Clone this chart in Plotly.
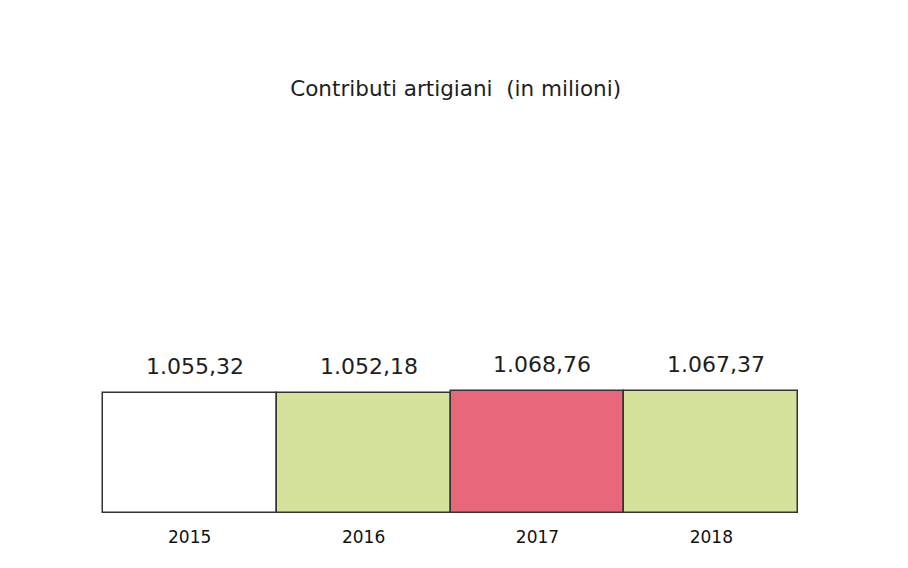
import plotly.graph_objects as go

years = ["2015", "2016", "2017", "2018"]
contributi = [1055.32, 1052.18, 1068.76, 1067.37]
bar_colors = ["#ffffff", "#d4e29b", "#e9677a", "#d4e29b"]

FONT = "DejaVu Sans, Verdana, sans-serif"


def it_format(val):
    """Italian number format: 1.055,32"""
    return f"{val:,.2f}".replace(",", "X").replace(".", ",").replace("X", ".")


fig = go.Figure(
    data=go.Bar(
        x=years,
        y=contributi,
        marker=dict(color=bar_colors, line=dict(color="#333333", width=1.5)),
        hoverinfo="x+y",
    )
)

# value labels above the bars
for i, val in enumerate(contributi):
    fig.add_annotation(
        x=i,
        y=val,
        xref="x",
        yref="y",
        text=it_format(val),
        showarrow=False,
        yanchor="bottom",
        yshift=12,
        xshift=5,
        font=dict(family=FONT, size=22, color="#1e1e1e"),
    )

fig.update_layout(
    width=908,
    height=568,
    margin=dict(l=93, r=116, t=49, b=63),
    paper_bgcolor="white",
    plot_bgcolor="white",
    bargap=0,
    showlegend=False,
    title=dict(
        text="Contributi artigiani&nbsp;&nbsp;(in milioni)",
        xref="container",
        yref="container",
        x=0.493,
        xanchor="center",
        y=0.859,
        yanchor="middle",
        font=dict(family=FONT, size=21.5, color="#1e1e1e"),
    ),
    xaxis=dict(
        type="category",
        range=[-0.51, 3.51],
        showgrid=False,
        showline=False,
        zeroline=False,
        ticks="",
        ticklabelstandoff=12,
        tickfont=dict(family=FONT, size=17, color="#111111"),
    ),
    yaxis=dict(
        range=[0, 4000],
        visible=False,
    ),
)

fig.write_html("out.html")
